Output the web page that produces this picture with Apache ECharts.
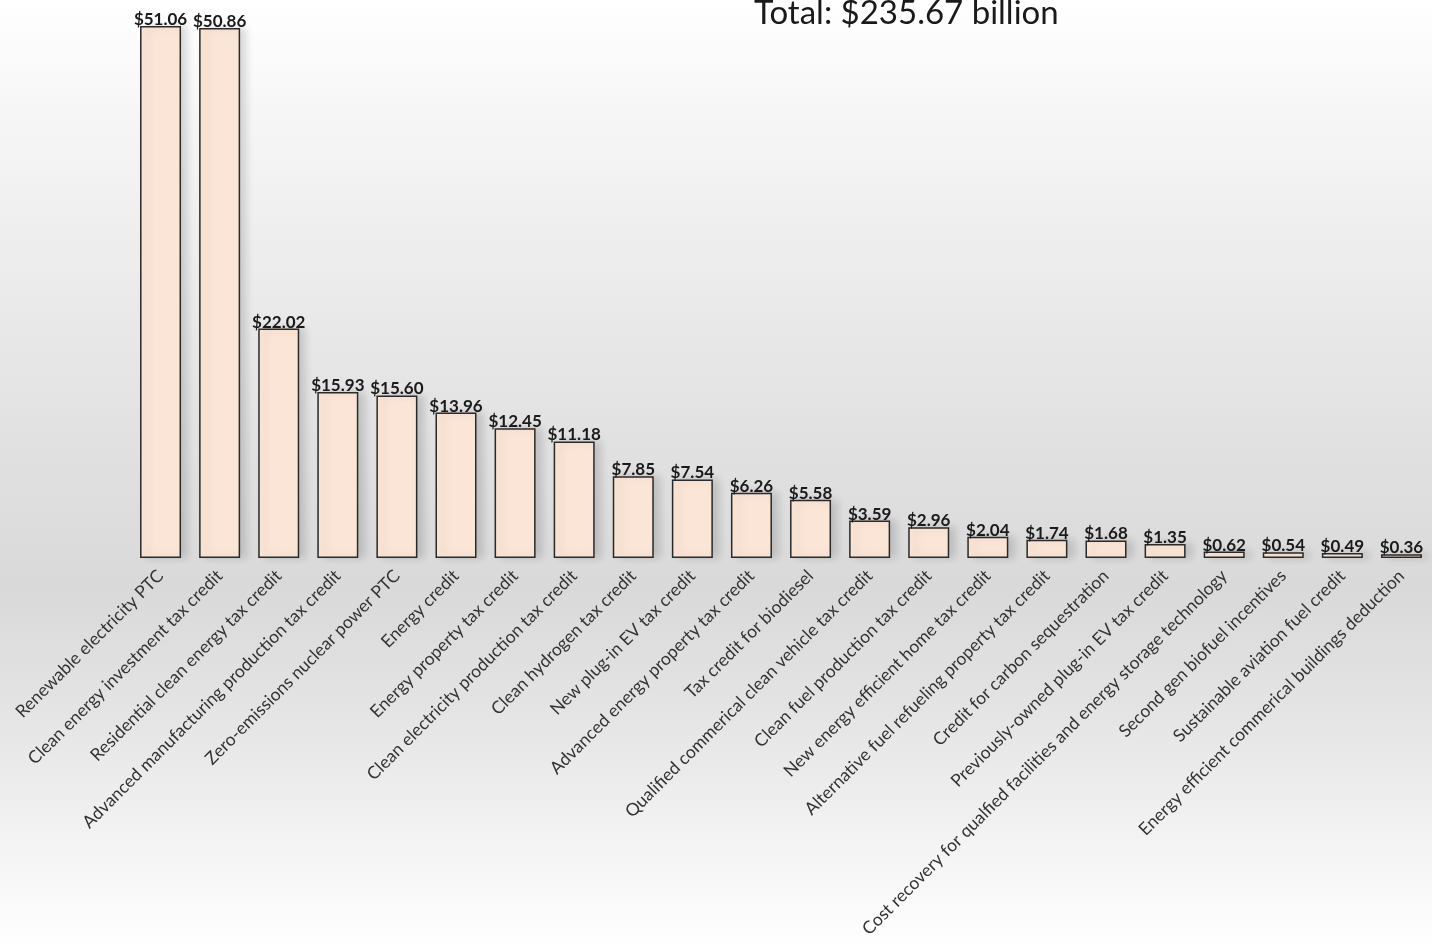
<!DOCTYPE html>
<html>
<head>
<meta charset="utf-8">
<script src="https://cdn.jsdelivr.net/npm/echarts@6/dist/echarts.min.js"></script>
<style>
  html, body { margin: 0; padding: 0; }
  #main { width: 1432px; height: 947px; }
</style>
</head>
<body>
<div id="main"></div>
<script>
const categories = [
  'Renewable electricity PTC',
  'Clean energy investment tax credit',
  'Residential clean energy tax credit',
  'Advanced manufacturing production tax credit',
  'Zero-emissions nuclear power PTC',
  'Energy credit',
  'Energy property tax credit',
  'Clean electricity production tax credit',
  'Clean hydrogen tax credit',
  'New plug-in EV tax credit',
  'Advanced energy property tax credit',
  'Tax credit for biodiesel',
  'Qualified commerical clean vehicle tax credit',
  'Clean fuel production tax credit',
  'New energy efficient home tax credit',
  'Alternative fuel refueling property tax credit',
  'Credit for carbon sequestration',
  'Previously-owned plug-in EV tax credit',
  'Cost recovery for qualfied facilities and energy storage technology',
  'Second gen biofuel incentives',
  'Sustainable aviation fuel credit',
  'Energy efficient commerical buildings deduction'
];

const values = [51.06, 50.86, 22.02, 15.93, 15.60, 13.96, 12.45, 11.18, 7.85, 7.54,
  6.26, 5.58, 3.59, 2.96, 2.04, 1.74, 1.68, 1.35, 0.62, 0.54, 0.49, 0.36];

const titleText = 'Total: $235.67 billion';

const myChart = echarts.init(document.getElementById('main'));

const option = {
  backgroundColor: {
    type: 'linear', x: 0, y: 0, x2: 0, y2: 1,
    colorStops: [
      { offset: 0, color: '#ffffff' },
      { offset: 0.12, color: '#f6f6f6' },
      { offset: 0.45, color: '#e2e2e2' },
      { offset: 0.62, color: '#d9d9d9' },
      { offset: 0.75, color: '#e4e4e4' },
      { offset: 1, color: '#ffffff' }
    ]
  },
  animation: false,
  title: {
    text: titleText,
    left: 754,
    top: -3,
    padding: 0,
    textStyle: { fontFamily: 'Lato', fontWeight: 'normal', fontSize: 33, color: '#1a1a1a' }
  },
  grid: { left: 131, right: 1, top: 26, bottom: 389, containLabel: false },
  xAxis: {
    type: 'category',
    data: categories,
    axisLine: { show: false },
    axisTick: { show: false },
    axisLabel: {
      interval: 0,
      rotate: 45,
      margin: 15,
      fontFamily: 'Lato',
      fontSize: 17.5,
      color: '#333333'
    }
  },
  yAxis: {
    type: 'value',
    min: 0,
    max: 'dataMax',
    show: false,
    splitLine: { show: false }
  },
  series: [{
    type: 'bar',
    data: values,
    barWidth: 41,
    itemStyle: {
      color: '#fbe5d6',
      borderColor: '#2a2a2a',
      borderWidth: 1.5,
      shadowColor: 'rgba(0,0,0,0.14)',
      shadowBlur: 8,
      shadowOffsetX: 6,
      shadowOffsetY: 0
    },
    label: {
      show: true,
      position: 'top',
      distance: -2,
      formatter: p => '$' + p.value.toFixed(2),
      fontFamily: 'Lato',
      fontWeight: 'bold',
      fontSize: 17,
      color: '#1a1a1a'
    }
  }]
};

myChart.setOption(option);
</script>
</body>
</html>
